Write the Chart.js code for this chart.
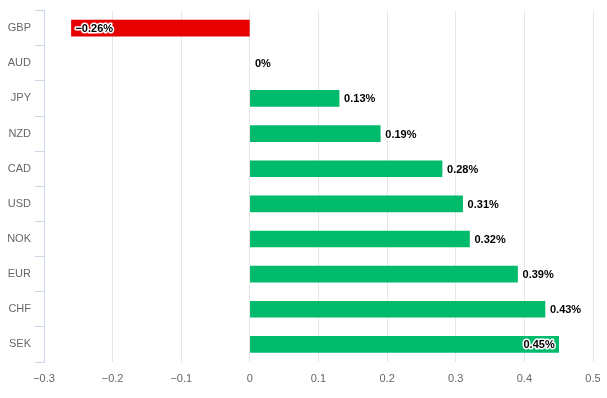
<!DOCTYPE html>
<html>
<head>
<meta charset="utf-8">
<script src="https://cdn.jsdelivr.net/npm/chart.js@4"></script>
<style>
  html, body { margin: 0; padding: 0; background: #fff; }
  #wrap { width: 607px; height: 398px; }
</style>
</head>
<body>
<div id="wrap"><canvas id="chart" width="607" height="398"></canvas></div>
<script>
// ----------------------
// Data
// ----------------------
const currencies = ['GBP', 'AUD', 'JPY', 'NZD', 'CAD', 'USD', 'NOK', 'EUR', 'CHF', 'SEK'];
const changes = [-0.26, 0, 0.13, 0.19, 0.28, 0.31, 0.32, 0.39, 0.43, 0.45];
const xTicks = [-0.3, -0.2, -0.1, 0, 0.1, 0.2, 0.3, 0.4, 0.5];

const colors = {
  up: '#00bb6c',
  down: '#e60000',
  grid: '#e6e6e6',
  axis: '#ccd6eb',
  text: '#666666',
};

const fmt = (v) => String(v).replace('-', '\u2212');

// value labels with white outline, moved inside the bar when they overflow
const valueLabels = {
  id: 'valueLabels',
  afterDatasetsDraw(chart) {
    const { ctx, chartArea } = chart;
    const meta = chart.getDatasetMeta(0);
    ctx.save();
    ctx.font = 'bold 11px "Liberation Sans", Arial, sans-serif';
    ctx.textBaseline = 'middle';
    ctx.lineJoin = 'round';
    meta.data.forEach((bar, i) => {
      const v = changes[i];
      const text = fmt(v) + '%';
      const w = ctx.measureText(text).width;
      let x, align;
      if (v >= 0) {
        x = bar.x + 5; align = 'left';
        if (x + w > chartArea.right) { x = bar.x - 4; align = 'right'; }
      } else {
        x = bar.x - 5; align = 'right';
        if (x - w < chartArea.left) { x = bar.x + 4; align = 'left'; }
      }
      ctx.textAlign = align;
      ctx.lineWidth = 3;
      ctx.strokeStyle = '#ffffff';
      ctx.strokeText(text, x, bar.y + 1);
      ctx.fillStyle = '#000000';
      ctx.fillText(text, x, bar.y + 1);
    });
    ctx.restore();
  },
};

new Chart(document.getElementById('chart'), {
  type: 'bar',
  data: {
    labels: currencies,
    datasets: [{
      data: changes,
      backgroundColor: changes.map((v) => (v < 0 ? colors.down : v === 0 ? 'rgba(0,0,0,0)' : colors.up)),
      barThickness: 16,
      borderWidth: 0,
    }],
  },
  options: {
    indexAxis: 'y',
    responsive: false,
    animation: false,
    layout: { padding: { top: 8, right: 14, left: 0, bottom: 0 } },
    plugins: {
      legend: { display: false },
      tooltip: { enabled: false },
    },
    scales: {
      x: {
        min: -0.3,
        max: 0.5,
        afterBuildTicks: (axis) => { axis.ticks = xTicks.map((v) => ({ value: v })); },
        afterFit: (axis) => {
          axis.height = 36;
          axis.paddingLeft = 0;
          axis.paddingRight = 0;
        },
        border: { display: false },
        grid: { color: colors.grid, drawTicks: false },
        ticks: {
          color: colors.text,
          padding: 10,
          font: { size: 11, family: '"Liberation Sans", Arial, sans-serif' },
          callback: (v) => fmt(Math.round(v * 10) / 10),
        },
      },
      y: {
        afterFit: (axis) => { axis.width = 44; },
        border: { display: true, color: colors.axis },
        grid: {
          offset: true,
          drawOnChartArea: false,
          drawTicks: true,
          tickLength: 9,
          color: colors.axis,
        },
        ticks: {
          color: colors.text,
          padding: 4,
          font: { size: 11, family: '"Liberation Sans", Arial, sans-serif' },
        },
      },
    },
  },
  plugins: [valueLabels],
});
</script>
</body>
</html>
